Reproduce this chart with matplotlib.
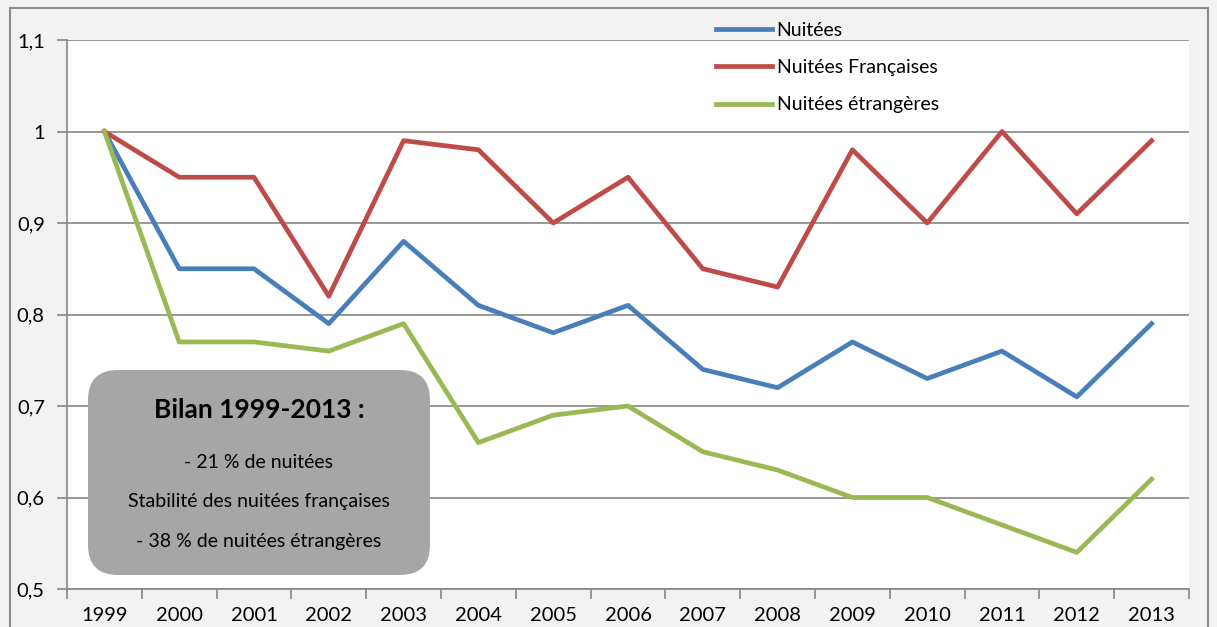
import numpy as np
import matplotlib.pyplot as plt
from matplotlib.patches import FancyBboxPatch, Rectangle
from matplotlib.ticker import FixedLocator

plt.rcParams['font.family'] = ['Lato', 'DejaVu Sans']

annees = ['1999', '2000', '2001', '2002', '2003', '2004', '2005', '2006',
          '2007', '2008', '2009', '2010', '2011', '2012', '2013']
nuitees = [1.0, 0.85, 0.85, 0.79, 0.88, 0.81, 0.78, 0.81, 0.74, 0.72, 0.77, 0.73, 0.76, 0.71, 0.79]
nuitees_fr = [1.0, 0.95, 0.95, 0.82, 0.99, 0.98, 0.90, 0.95, 0.85, 0.83, 0.98, 0.90, 1.0, 0.91, 0.99]
nuitees_etr = [1.0, 0.77, 0.77, 0.76, 0.79, 0.66, 0.69, 0.70, 0.65, 0.63, 0.60, 0.60, 0.57, 0.54, 0.62]
y_ticks = [0.5, 0.6, 0.7, 0.8, 0.9, 1.0, 1.1]
y_labels = ['0,5', '0,6', '0,7', '0,8', '0,9', '1', '1,1']

W, H = 1217, 627
fig = plt.figure(figsize=(W / 100, H / 100), dpi=100, facecolor='#f2f2f2')

# cadre extérieur
fig.patches.append(Rectangle((10, -5), 1198, H - 8 + 5, transform=None,
                             facecolor='none', edgecolor='#8c8c8c', lw=1.5))

ax = fig.add_axes([67 / W, 38 / H, (1189 - 67) / W, (589 - 40) / H])
ax.set_facecolor('white')

x = np.arange(len(annees))
l1, = ax.plot(x, nuitees, color='#4a7ebb', lw=3.4, label='Nuitées')
l2, = ax.plot(x, nuitees_fr, color='#be4b48', lw=3.4, label='Nuitées Françaises')
l3, = ax.plot(x, nuitees_etr, color='#98b954', lw=3.4, label='Nuitées étrangères')

ax.set_xlim(-0.5, len(annees) - 0.5)
ax.set_ylim(0.5, 1.1)
ax.set_yticks(y_ticks)
ax.set_yticklabels(y_labels, fontsize=14.5)
ax.yaxis.grid(True, color='#868686', lw=1.2)
ax.set_axisbelow(True)

ax.set_xticks(x)
ax.set_xticklabels(annees, fontsize=14.5)
ax.xaxis.set_minor_locator(FixedLocator(np.arange(-0.5, len(annees), 1.0)))
ax.tick_params(axis='x', which='major', length=0, pad=13)
ax.tick_params(axis='x', which='minor', length=7, color='#868686', width=1.2)
ax.tick_params(axis='y', length=7, color='#868686', width=1.2, pad=9)

for s in ['top', 'right']:
    ax.spines[s].set_visible(False)
for s in ['left', 'bottom']:
    ax.spines[s].set_color('#868686')
    ax.spines[s].set_linewidth(1.2)

fig.legend(handles=[l1, l2, l3], loc='upper left', bbox_to_anchor=(698 / W, 1 - 4 / H),
           frameon=False, fontsize=14, handlelength=2.9, handletextpad=0.25,
           labelspacing=1.05)

# encadré bilan
box = FancyBboxPatch((88, H - 575), 342, 205, transform=None,
                     boxstyle='round,pad=0,rounding_size=30',
                     facecolor='#a6a6a6', edgecolor='none', zorder=5)
fig.patches.append(box)
cx = 259 / W
fig.text(cx, 1 - 410 / H, 'Bilan 1999-2013 :', ha='center', va='center',
         fontsize=19, fontweight='bold', zorder=6)
fig.text(cx, 1 - 463 / H, '- 21 % de nuitées', ha='center', va='center', fontsize=14, zorder=6)
fig.text(cx, 1 - 502 / H, 'Stabilité des nuitées françaises', ha='center', va='center',
         fontsize=14, zorder=6)
fig.text(cx, 1 - 541 / H, '- 38 % de nuitées étrangères', ha='center', va='center',
         fontsize=14, zorder=6)

fig.savefig('out.png', dpi=100, facecolor=fig.get_facecolor())
